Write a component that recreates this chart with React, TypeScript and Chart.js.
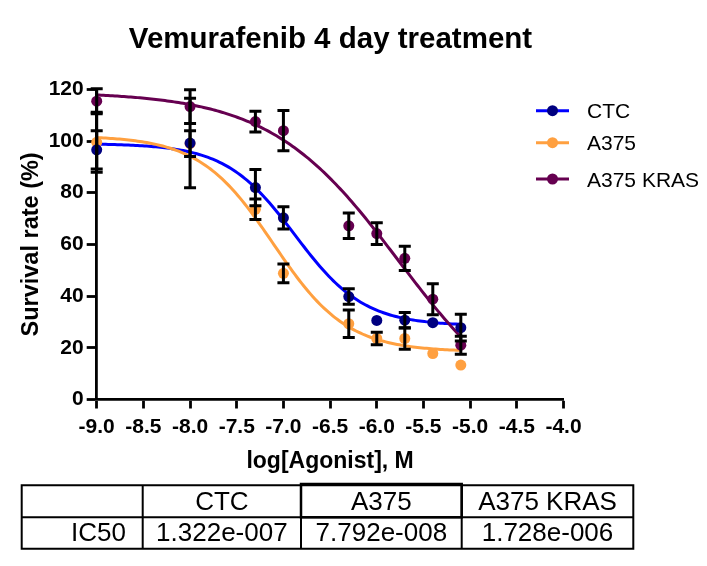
import { useEffect, useRef } from "react";
import { Chart, registerables } from "chart.js";

Chart.register(...registerables);

// Drug concentrations, log10 molar
const logDose = [-9, -8, -7.3, -7, -6.3, -6, -5.7, -5.4, -5.1];

const seriesNames = ["CTC", "A375", "A375 KRAS"];

// Mean survival (%) and standard deviation per dose
const ctcMean = [96.6, 99.2, 82, 70.3, 39.8, 30.6, 30.7, 29.7, 27.8];
const ctcSd = [7.4, 17.3, 7, 4.3, 3, 1, 3, 1, 5.2];
const a375Mean = [99.5, 99, 73.6, 48.8, 29.3, 23.6, 23.6, 17.8, 13.3];
const a375Sd = [11.6, 5, 4, 3.6, 5.3, 2.4, 4.2, 0.5, 0.5];
const krasMean = [115.4, 113.3, 107.5, 104, 67.2, 64.2, 54.6, 38.8, 21];
const krasSd = [4.85, 6.5, 4, 7.8, 4.9, 4.2, 4.7, 6, 3.5];

// Four-parameter logistic fit for each cell line
const ic50 = [1.322e-7, 7.792e-8, 1.728e-6];
const fitTop = [99, 102, 119];
const fitBottom = [28.5, 18.5, -12];
const fitHill = [1.17, 1.1, 0.63];

const lineColors = ["#0000ff", "#ffa040", "#660050"];
const pointColors = ["#000080", "#ffa040", "#660050"];

const means = [ctcMean, a375Mean, krasMean];
const sds = [ctcSd, a375Sd, krasSd];

const FONT = "'Liberation Sans', Arial, Helvetica, sans-serif";
const POINT_RADIUS = 5.5;

function fitCurve(s: number) {
  const logIc50 = Math.log10(ic50[s]);
  const start = logDose[0];
  const end = logDose[logDose.length - 1];
  const n = 160;
  const pts: { x: number; y: number }[] = [];
  for (let i = 0; i <= n; i++) {
    const x = start + ((end - start) * i) / n;
    const y =
      fitBottom[s] +
      (fitTop[s] - fitBottom[s]) / (1 + Math.pow(10, (x - logIc50) * fitHill[s]));
    pts.push({ x, y });
  }
  return pts;
}

// GraphPad style exponent: 1.322e-007
function formatIc50(v: number) {
  const [mant, exp] = v.toExponential(3).split("e");
  const negative = exp.startsWith("-");
  const digits = exp.replace(/[-+]/, "").padStart(3, "0");
  return `${mant}e${negative ? "-" : ""}${digits}`;
}

// SD bars; bars hidden behind the symbol are not drawn
const errorBarPlugin = {
  id: "errorBars",
  afterDatasetsDraw(chart: any) {
    const { ctx, scales } = chart;
    const x = scales.x;
    const y = scales.y;
    ctx.save();
    ctx.strokeStyle = "#000";
    ctx.lineWidth = 3;
    const cap = 6;
    means.forEach((m, s) => {
      m.forEach((v, i) => {
        const px = x.getPixelForValue(logDose[i]);
        const top = y.getPixelForValue(v + sds[s][i]);
        const bot = y.getPixelForValue(v - sds[s][i]);
        if ((bot - top) / 2 <= POINT_RADIUS) return;
        ctx.beginPath();
        ctx.moveTo(px, top);
        ctx.lineTo(px, bot);
        ctx.moveTo(px - cap, top);
        ctx.lineTo(px + cap, top);
        ctx.moveTo(px - cap, bot);
        ctx.lineTo(px + cap, bot);
        ctx.stroke();
      });
    });
    ctx.restore();
  },
};

const decorPlugin = {
  id: "decor",
  afterDraw(chart: any) {
    const { ctx } = chart;
    ctx.save();

    // Title
    ctx.fillStyle = "#000";
    ctx.font = `bold 29.5px ${FONT}`;
    ctx.textAlign = "center";
    ctx.textBaseline = "alphabetic";
    ctx.fillText("Vemurafenib 4 day treatment", 330.5, 48);

    // Legend
    const rows = [110.7, 142.7, 179];
    seriesNames.forEach((name, s) => {
      const ry = rows[s];
      ctx.strokeStyle = lineColors[s];
      ctx.lineWidth = 3;
      ctx.beginPath();
      ctx.moveTo(536, ry);
      ctx.lineTo(569, ry);
      ctx.stroke();
      ctx.fillStyle = pointColors[s];
      ctx.beginPath();
      ctx.arc(552.5, ry, POINT_RADIUS, 0, Math.PI * 2);
      ctx.fill();
      ctx.fillStyle = "#000";
      ctx.font = `21px ${FONT}`;
      ctx.textAlign = "left";
      ctx.textBaseline = "alphabetic";
      ctx.fillText(name, 587, ry + 7.5);
    });

    // IC50 table
    const cols = [21.7, 142.7, 301, 461.7, 633.3];
    const rowsY = [485.3, 517.3, 548.7];
    ctx.strokeStyle = "#000";
    ctx.lineWidth = 2;
    ctx.beginPath();
    rowsY.forEach((yy) => {
      ctx.moveTo(cols[0] - 1, yy);
      ctx.lineTo(cols[4] + 1, yy);
    });
    cols.forEach((xx) => {
      ctx.moveTo(xx, rowsY[0]);
      ctx.lineTo(xx, rowsY[2]);
    });
    ctx.stroke();
    // highlighted header cell
    ctx.lineWidth = 2.5;
    ctx.strokeRect(cols[2], 484, cols[3] - cols[2], rowsY[1] - 484);

    ctx.fillStyle = "#000";
    ctx.font = `26px ${FONT}`;
    ctx.textBaseline = "alphabetic";
    ctx.textAlign = "center";
    seriesNames.forEach((name, s) => {
      const cx = (cols[s + 1] + cols[s + 2]) / 2;
      ctx.fillText(name, cx, 509.7);
      ctx.fillText(formatIc50(ic50[s]), cx, 540.7);
    });
    ctx.textAlign = "right";
    ctx.fillText("IC50", 126, 540.7);

    ctx.restore();
  },
};

export default function App() {
  const canvasRef = useRef<HTMLCanvasElement | null>(null);

  useEffect(() => {
    const canvas = canvasRef.current;
    if (!canvas) return;
    Chart.defaults.font.family = FONT;
    Chart.defaults.color = "#000";

    const curveSets = [0, 1, 2].map((s) => ({
      type: "line" as const,
      label: `${seriesNames[s]} fit`,
      data: fitCurve(s),
      borderColor: lineColors[s],
      borderWidth: 3,
      pointRadius: 0,
      showLine: true,
      tension: 0,
      fill: false,
      clip: false as const,
      order: 10 - s,
    }));
    const pointSets = [0, 1, 2].map((s) => ({
      type: "line" as const,
      label: seriesNames[s],
      data: logDose.map((x, i) => ({ x, y: means[s][i] })),
      showLine: false,
      pointRadius: POINT_RADIUS,
      pointBorderWidth: 0,
      pointBackgroundColor: pointColors[s],
      borderColor: pointColors[s],
      clip: false as const,
      order: s + 1,
    }));

    const chart = new Chart(canvas, {
      type: "line",
      data: { datasets: [...curveSets, ...pointSets] as any },
      options: {
        animation: false,
        responsive: false,
        devicePixelRatio: 1,
        layout: { padding: { left: 0, top: 89.3, right: 143.5, bottom: 93 } },
        plugins: {
          legend: { display: false },
          title: { display: false },
          tooltip: { enabled: false },
        },
        scales: {
          x: {
            type: "linear",
            min: -9,
            max: -4,
            afterFit: (s: any) => {
              s.height = 73.5;
            },
            border: { display: true, color: "#000", width: 2.8 },
            grid: {
              display: true,
              drawOnChartArea: false,
              drawTicks: true,
              tickLength: 9,
              tickWidth: 2.8,
              color: "#000",
            },
            ticks: {
              stepSize: 0.5,
              autoSkip: false,
              maxRotation: 0,
              padding: 6,
              font: { family: FONT, size: 21, weight: "bold" },
              color: "#000",
              callback: (v: any) => Number(v).toFixed(1),
            },
            title: {
              display: true,
              text: "log[Agonist], M",
              font: { family: FONT, size: 23, weight: "bold", lineHeight: 1 },
              padding: { top: 0, bottom: 0 },
              color: "#000",
            },
          },
          y: {
            type: "linear",
            min: 0,
            max: 120,
            afterFit: (s: any) => {
              s.width = 96.7;
            },
            border: { display: true, color: "#000", width: 2.8 },
            grid: {
              display: true,
              drawOnChartArea: false,
              drawTicks: true,
              tickLength: 10,
              tickWidth: 2.8,
              color: "#000",
            },
            ticks: {
              stepSize: 20,
              padding: 3,
              font: { family: FONT, size: 21, weight: "bold" },
              color: "#000",
            },
            title: {
              display: true,
              text: "Survival rate (%)",
              font: { family: FONT, size: 23.5, weight: "bold", lineHeight: 1 },
              padding: { top: 20, bottom: 0 },
              color: "#000",
            },
          },
        },
      },
      plugins: [errorBarPlugin, decorPlugin],
    } as any);

    return () => chart.destroy();
  }, []);

  return (
    <div style={{ position: "fixed", left: 0, top: 0, width: 707, height: 566, background: "#fff" }}>
      <canvas ref={canvasRef} width={707} height={566} style={{ width: 707, height: 566, display: "block" }} />
    </div>
  );
}
